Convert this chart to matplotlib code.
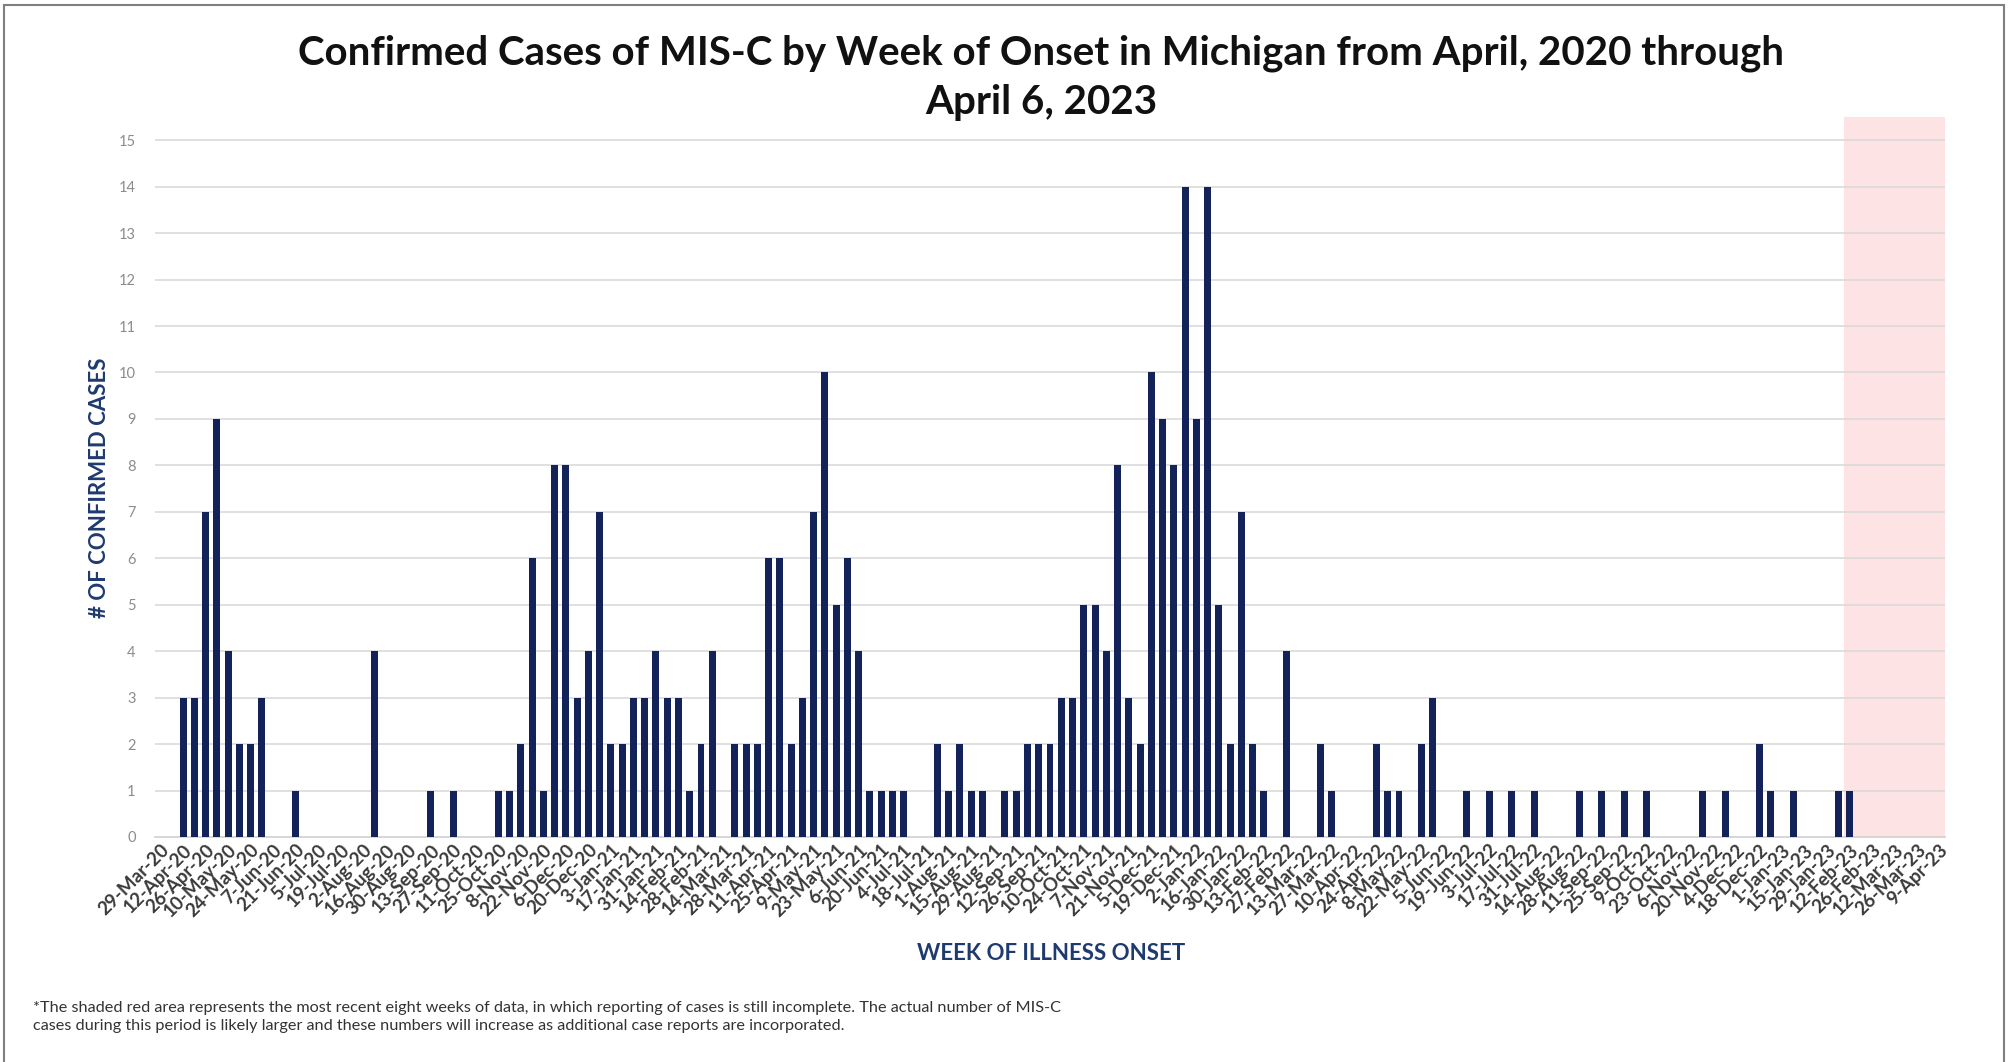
import matplotlib
matplotlib.use("Agg")
import matplotlib.pyplot as plt
import pandas as pd
from matplotlib.patches import Rectangle

# Weekly categories (week of onset), 29-Mar-2020 .. 9-Apr-2023
weeks = pd.date_range("2020-03-29", periods=159, freq="7D")
week_labels = [f"{d.day}-{d.strftime('%b')}-{d.strftime('%y')}" for d in weeks]

cases = [
    0, 0, 3, 3, 7, 9, 4, 2, 2, 3,       # 0-9
    0, 0, 1, 0, 0, 0, 0, 0, 0, 4,       # 10-19
    0, 0, 0, 0, 1, 0, 1, 0, 0, 0,       # 20-29
    1, 1, 2, 6, 1, 8, 8, 3, 4, 7,       # 30-39
    2, 2, 3, 3, 4, 3, 3, 1, 2, 4,       # 40-49
    0, 2, 2, 2, 6, 6, 2, 3, 7, 10,      # 50-59
    5, 6, 4, 1, 1, 1, 1, 0, 0, 2,       # 60-69
    1, 2, 1, 1, 0, 1, 1, 2, 2, 2,       # 70-79
    3, 3, 5, 5, 4, 8, 3, 2, 10, 9,      # 80-89
    8, 14, 9, 14, 5, 2, 7, 2, 1, 0,     # 90-99
    4, 0, 0, 2, 1, 0, 0, 0, 2, 1,       # 100-109
    1, 0, 2, 3, 0, 0, 1, 0, 1, 0,       # 110-119
    1, 0, 1, 0, 0, 0, 1, 0, 1, 0,       # 120-129
    1, 0, 1, 0, 0, 0, 0, 1, 0, 1,       # 130-139
    0, 0, 2, 1, 0, 1, 0, 0, 0, 1,       # 140-149
    1, 0, 0, 0, 0, 0, 0, 0, 0,          # 150-158
]
incomplete_start = "12-Feb-23"   # first week of the shaded "incomplete" period
y_ticks = list(range(0, 16))

title = "Confirmed Cases of MIS-C by Week of Onset in Michigan from April, 2020 through\nApril 6, 2023"
footnote = ("*The shaded red area represents the most recent eight weeks of data, in which reporting of cases is still incomplete. "
            "The actual number of MIS-C\ncases during this period is likely larger and these numbers will increase as additional case reports are incorporated.")

FONT = ["Lato", "DejaVu Sans"]
plt.rcParams["font.family"] = FONT
navy = "#13235A"

fig = plt.figure(figsize=(20.10, 10.62), dpi=100)
ax = fig.add_axes([155 / 2010, 1 - 837 / 1062, (1945 - 155) / 2010, (837 - 117) / 1062])

x = list(range(len(cases)))
ax.bar(x, cases, width=0.62, color=navy, zorder=3)

i0 = week_labels.index(incomplete_start)
ax.axvspan(i0 - 0.5, len(cases) - 0.5, ymin=0, ymax=1, color="#FDE3E3", zorder=1, lw=0)

ax.set_xlim(-0.5, len(cases) - 0.5)
ax.set_ylim(0, 15.5)
ax.set_yticks(y_ticks)
ax.set_yticklabels([str(v) for v in y_ticks], color="#8C8C8C", fontsize=10.5)
for v in y_ticks[1:]:
    ax.axhline(v, color="#DADADA", lw=1.2, zorder=2)
ax.tick_params(axis="y", length=0, pad=14)

ax.set_xticks(x[::2])
ax.set_xticklabels(week_labels[::2], rotation=45, ha="right", rotation_mode="anchor",
                   fontsize=13.5, fontweight="bold", color="#3A3A3A")
ax.tick_params(axis="x", length=0, pad=3)

for s in ["top", "right", "left"]:
    ax.spines[s].set_visible(False)
ax.spines["bottom"].set_color("#D0D0D0")
ax.spines["bottom"].set_linewidth(1.2)

fig.text(100 / 2010, 1 - 488 / 1062, "# OF CONFIRMED CASES", rotation=90, ha="center", va="center",
         fontsize=16, fontweight="bold", color="#1F3A6E")
fig.text(1051 / 2010, 1 - 953 / 1062, "WEEK OF ILLNESS ONSET", ha="center", va="center",
         fontsize=16, fontweight="bold", color="#1F3A6E")
fig.text(1041 / 2010, 1 - 78 / 1062, title, ha="center", va="center", fontsize=29,
         fontweight="bold", color="#111111", linespacing=1.4)
fig.text(33 / 2010, 1 - 1017 / 1062, footnote, ha="left", va="center", fontsize=11.7,
         color="#333333", linespacing=1.4)

fig.patches.append(Rectangle((4 / 2010, -0.01), 2000 / 2010, 1 - 5 / 1062 + 0.01, transform=fig.transFigure,
                             fill=False, edgecolor="#7F7F7F", lw=1.5))

fig.savefig("out.png", dpi=100)
